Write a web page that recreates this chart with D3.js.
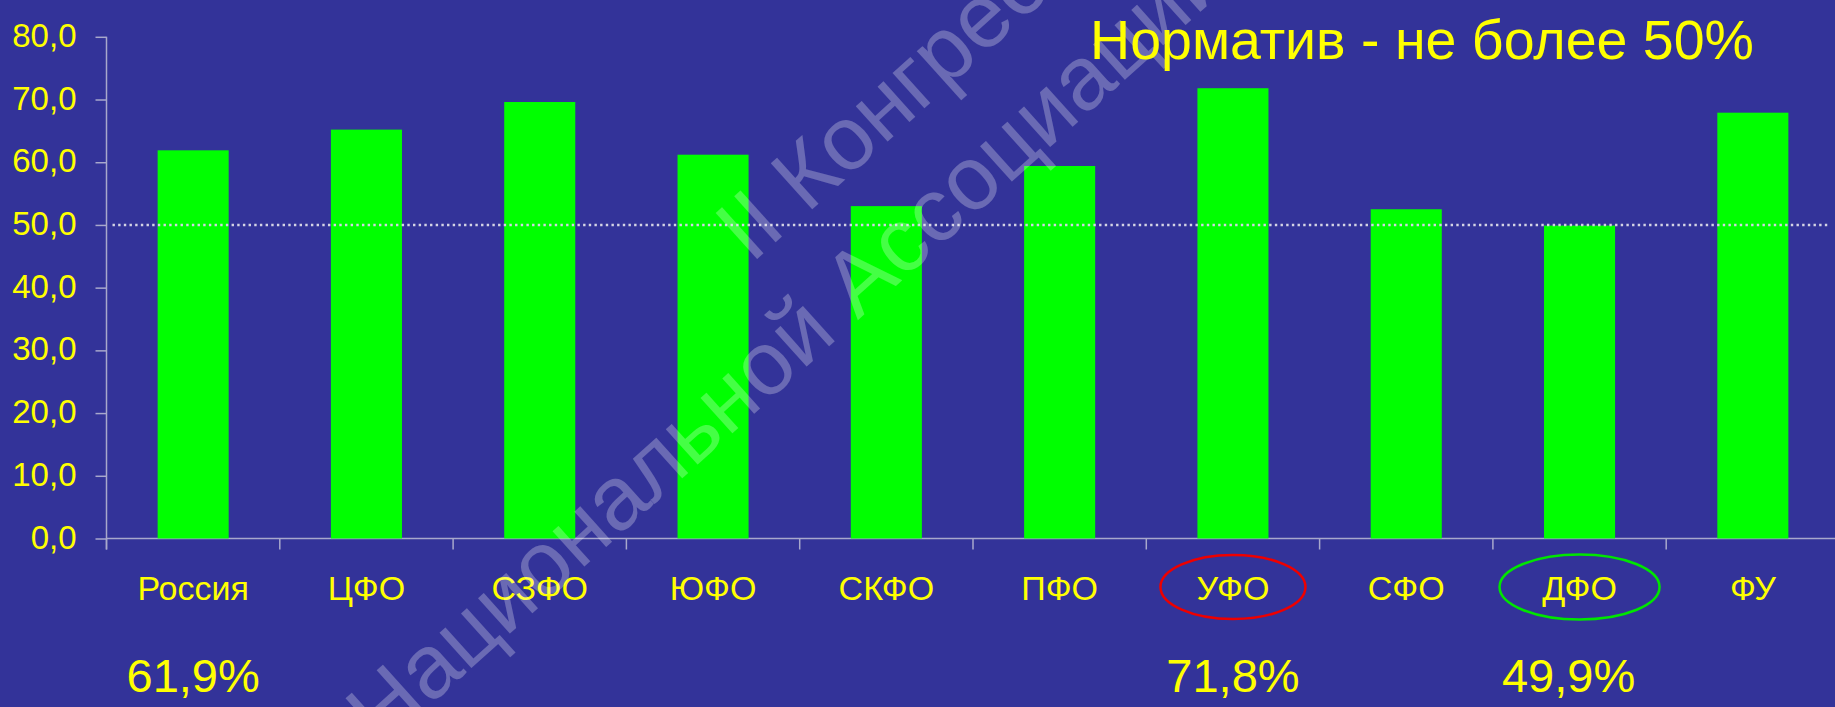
<!DOCTYPE html>
<html>
<head>
<meta charset="utf-8">
<script src="https://cdn.jsdelivr.net/npm/d3@7"></script>
<style>
	body { margin: 0; background: #333399; overflow: hidden; }
	text { font-family: "Liberation Sans", Arial, sans-serif; }
</style>
</head>
<body>
<svg id="chart" width="1835" height="707"></svg>
<script>
// data
const categories = ["Россия", "ЦФО", "СЗФО", "ЮФО", "СКФО", "ПФО", "УФО", "СФО", "ДФО", "ФУ"];
const values     = [61.9, 65.2, 69.6, 61.2, 53.0, 59.4, 71.8, 52.5, 49.9, 67.9];
const yTicks     = [0, 10, 20, 30, 40, 50, 60, 70, 80];
const normValue  = 50;
const titleText  = "Норматив - не более 50%";
const pctShown   = ["Россия", "УФО", "ДФО"];
const worstCat   = "УФО";
const bestCat    = "ДФО";

const BG_COLOR   = "#333399";
const BAR_COLOR  = "#00ff00";
const TEXT_COLOR = "#ffff00";
const AXIS_COLOR = "#a8a8cc";
const DOT_COLOR  = "#d4d4e4";

const MARGIN_LEFT = 106.5;
const STEP = 173.3;
const Y_TOP = 36.8, Y_BOT = 538.5;

const locale = d3.formatLocale({ decimal: ",", thousands: " ", grouping: [3], currency: ["", ""] });
const fmt = locale.format(".1f");

const svg = d3.select("#chart");
svg.append("rect").attr("width", 1835).attr("height", 707).attr("fill", BG_COLOR);

// scales
var x = d3.scaleBand()
	.domain(categories)
	.range([MARGIN_LEFT, MARGIN_LEFT + STEP * categories.length])
	.paddingInner(0.59)
	.paddingOuter(0.295);
var y = d3.scaleLinear().domain([0, 80]).range([Y_BOT, Y_TOP]);
var center = function(c) { return x(c) + x.bandwidth() / 2; };

// y axis
var yAxis = d3.axisLeft(y)
	.tickValues(yTicks)
	.tickSize(11)
	.tickPadding(19)
	.tickFormat(fmt);
var gy = svg.append("g")
	.attr("transform", "translate(" + MARGIN_LEFT + ",0)")
	.call(yAxis);
gy.select(".domain").remove();
gy.selectAll(".tick line").attr("stroke", AXIS_COLOR).attr("stroke-width", 1.5);
gy.selectAll(".tick text")
	.attr("fill", TEXT_COLOR)
	.attr("font-size", 33)
	.attr("dy", "0.29em")
	.style("font-family", "'Liberation Sans', Arial, sans-serif");
svg.append("line")
	.attr("x1", MARGIN_LEFT).attr("x2", MARGIN_LEFT)
	.attr("y1", y(80)).attr("y2", Y_BOT + 11)
	.attr("stroke", AXIS_COLOR).attr("stroke-width", 1.5);

// x axis line + boundary ticks
svg.append("line")
	.attr("x1", MARGIN_LEFT).attr("x2", x.range()[1])
	.attr("y1", Y_BOT).attr("y2", Y_BOT)
	.attr("stroke", AXIS_COLOR).attr("stroke-width", 1.5);
svg.selectAll(".xtick")
	.data(d3.range(categories.length + 1))
  .enter().append("line")
	.attr("class", "xtick")
	.attr("x1", function(i) { return x.range()[0] + i * x.step(); })
	.attr("x2", function(i) { return x.range()[0] + i * x.step(); })
	.attr("y1", Y_BOT).attr("y2", Y_BOT + 11)
	.attr("stroke", AXIS_COLOR).attr("stroke-width", 1.5);

// bars
svg.selectAll(".bar")
	.data(categories)
  .enter().append("rect")
	.attr("class", "bar")
	.attr("x", function(c) { return x(c); })
	.attr("width", x.bandwidth())
	.attr("y", function(c, i) { return y(values[i]); })
	.attr("height", function(c, i) { return Y_BOT - y(values[i]); })
	.attr("fill", BAR_COLOR);

// norm line (dotted), over the bars
svg.append("line")
	.attr("x1", MARGIN_LEFT + 6).attr("x2", 1830)
	.attr("y1", y(normValue)).attr("y2", y(normValue))
	.attr("stroke", DOT_COLOR)
	.attr("stroke-width", 2.4)
	.attr("stroke-dasharray", "2.4 3.27");

// category labels
svg.selectAll(".cat")
	.data(categories)
  .enter().append("text")
	.attr("class", "cat")
	.attr("x", center)
	.attr("y", Y_BOT + 61.5)
	.attr("text-anchor", "middle")
	.attr("font-size", 34)
	.attr("fill", TEXT_COLOR)
	.text(function(c) { return c; });

// ellipses round worst and best
svg.append("ellipse")
	.attr("cx", center(worstCat)).attr("cy", Y_BOT + 48.5)
	.attr("rx", 72.5).attr("ry", 32)
	.attr("fill", "none").attr("stroke", "#ee0000").attr("stroke-width", 2.5);
svg.append("ellipse")
	.attr("cx", center(bestCat)).attr("cy", Y_BOT + 48.5)
	.attr("rx", 80).attr("ry", 32.5)
	.attr("fill", "none").attr("stroke", "#00e600").attr("stroke-width", 2.5);

// percentages under selected categories
svg.selectAll(".pct")
	.data(pctShown)
  .enter().append("text")
	.attr("class", "pct")
	.attr("x", function(c) { return center(c) + (c === bestCat ? -11 : 0); })
	.attr("y", 692)
	.attr("text-anchor", "middle")
	.attr("font-size", 47)
	.attr("fill", TEXT_COLOR)
	.text(function(c) { return fmt(values[categories.indexOf(c)]) + "%"; });

// watermark
var wm = svg.append("g")
	.attr("transform", "translate(751,264.4) rotate(-42)")
	.attr("fill", "#ffffff")
	.attr("fill-opacity", 0.27)
	.attr("font-size", 90);
wm.append("text").attr("x", 0).attr("y", 0).text("II Конгресс");
wm.append("text").attr("x", 17).attr("y", 113).attr("text-anchor", "end").text("Национальной");
wm.append("text").attr("x", 42).attr("y", 113).text("Ассоциации фтизиатров");

// title
svg.append("text")
	.attr("x", 1422)
	.attr("y", 59)
	.attr("text-anchor", "middle")
	.attr("font-size", 55.5)
	.attr("fill", TEXT_COLOR)
	.text(titleText);
</script>
</body>
</html>
